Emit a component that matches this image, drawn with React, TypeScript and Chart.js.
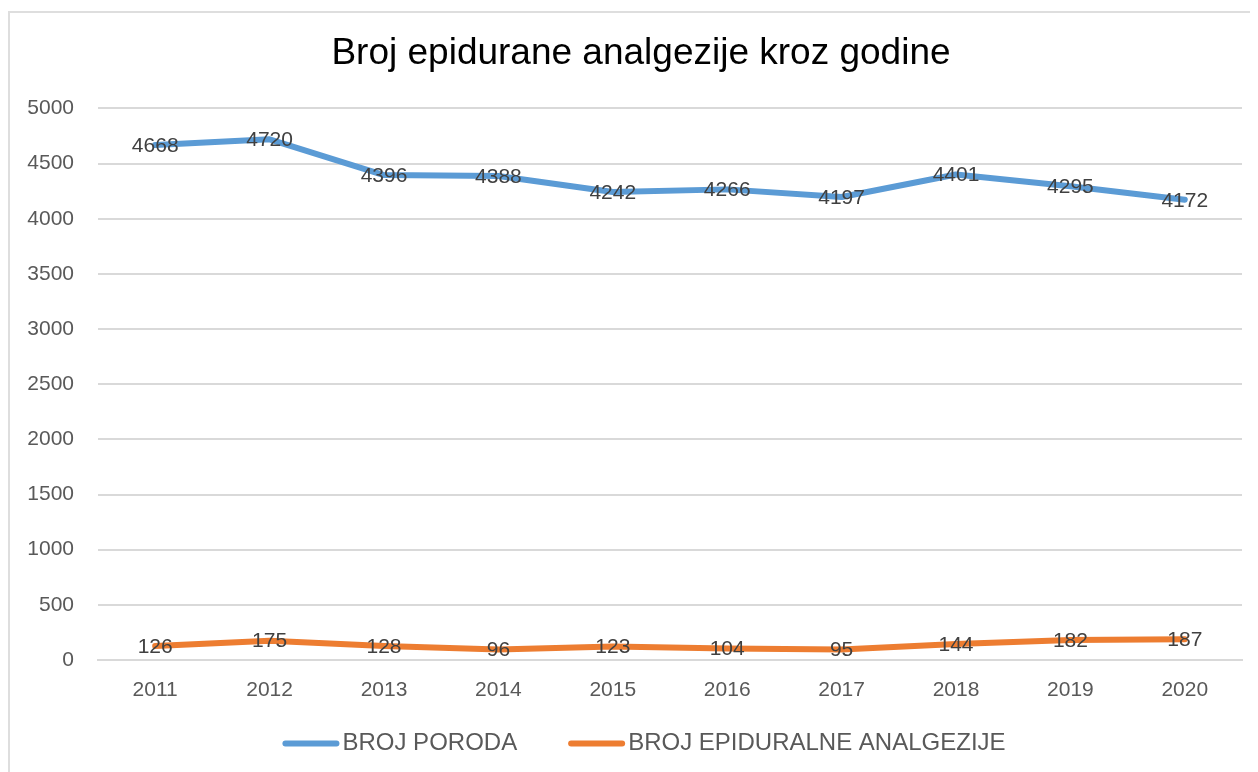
import React, { useEffect, useRef } from "react";
import { Chart, registerables } from "chart.js";

Chart.register(...registerables);

const TITLE = "Broj epidurane analgezije kroz godine";
const YEARS = ["2011", "2012", "2013", "2014", "2015", "2016", "2017", "2018", "2019", "2020"];
const BROJ_PORODA = [4668, 4720, 4396, 4388, 4242, 4266, 4197, 4401, 4295, 4172];
const BROJ_EPIDURALNE = [126, 175, 128, 96, 123, 104, 95, 144, 182, 187];
const SERIES_NAMES = ["BROJ PORODA", "BROJ EPIDURALNE ANALGEZIJE"];
const COLORS = ["#5B9BD5", "#ED7D31"];
const Y_MIN = 0;
const Y_MAX = 5000;
const Y_STEP = 500;

const FONT = '"Liberation Sans", Arial, sans-serif';

const titlePlugin = {
  id: "titleCustom",
  afterDraw(chart: any) {
    const ctx = chart.ctx;
    ctx.save();
    ctx.font = `37px ${FONT}`;
    ctx.fillStyle = "#000000";
    ctx.textAlign = "center";
    ctx.textBaseline = "middle";
    ctx.fillText(TITLE, chart.width / 2, 41);
    ctx.restore();
  },
};

const dataLabelPlugin = {
  id: "dataLabelsCustom",
  afterDatasetsDraw(chart: any) {
    const ctx = chart.ctx;
    ctx.save();
    ctx.font = `21px ${FONT}`;
    ctx.fillStyle = "#404040";
    ctx.textAlign = "center";
    ctx.textBaseline = "middle";
    chart.data.datasets.forEach((ds: any, di: number) => {
      const meta = chart.getDatasetMeta(di);
      meta.data.forEach((pt: any, i: number) => {
        ctx.fillText(String(ds.data[i]), pt.x, pt.y + 1);
      });
    });
    ctx.restore();
  },
};

const legendPlugin = {
  id: "legendCustom",
  afterDraw(chart: any) {
    const ctx = chart.ctx;
    ctx.save();
    ctx.font = `24px ${FONT}`;
    const lineLen = 57;
    const textGap = 3;
    const itemGap = 51;
    const items = chart.data.datasets.map((ds: any) => ({
      label: ds.label,
      color: ds.borderColor,
      w: ctx.measureText(ds.label).width,
    }));
    let total = 0;
    items.forEach((it: any, i: number) => {
      total += lineLen + textGap + it.w + (i < items.length - 1 ? itemGap : 0);
    });
    let x = chart.width / 2 - total / 2 + 3;
    const y = chart.chartArea.bottom + 83.5;
    items.forEach((it: any) => {
      ctx.strokeStyle = it.color;
      ctx.lineWidth = 6;
      ctx.lineCap = "round";
      ctx.beginPath();
      ctx.moveTo(x + 3, y);
      ctx.lineTo(x + lineLen - 3, y);
      ctx.stroke();
      ctx.fillStyle = "#595959";
      ctx.textAlign = "left";
      ctx.textBaseline = "middle";
      ctx.fillText(it.label, x + lineLen + textGap, y);
      x += lineLen + textGap + it.w + itemGap;
    });
    ctx.restore();
  },
};

export default function App() {
  const ref = useRef<HTMLCanvasElement | null>(null);

  useEffect(() => {
    document.body.style.overflow = "hidden";
    const canvas = ref.current;
    if (!canvas) return;
    const chart = new Chart(canvas, {
      type: "line",
      data: {
        labels: YEARS,
        datasets: [
          {
            label: SERIES_NAMES[0],
            data: BROJ_PORODA,
            borderColor: COLORS[0],
            backgroundColor: COLORS[0],
            borderWidth: 6,
            borderCapStyle: "round",
            borderJoinStyle: "round",
            pointRadius: 0,
            tension: 0,
          },
          {
            label: SERIES_NAMES[1],
            data: BROJ_EPIDURALNE,
            borderColor: COLORS[1],
            backgroundColor: COLORS[1],
            borderWidth: 6,
            borderCapStyle: "round",
            borderJoinStyle: "round",
            pointRadius: 0,
            tension: 0,
          },
        ],
      },
      options: {
        animation: false,
        responsive: false,
        maintainAspectRatio: false,
        layout: { padding: { left: 0, right: 30, top: 95.4, bottom: 52 } },
        plugins: {
          legend: { display: false },
          tooltip: { enabled: false },
          title: { display: false },
        },
        scales: {
          x: {
            offset: true,
            grid: { display: false, drawTicks: false },
            border: { display: true, color: "#d9d9d9", width: 2 },
            ticks: {
              color: "#595959",
              font: { family: FONT, size: 21 },
              padding: 18,
              maxRotation: 0,
            },
            afterFit: (s: any) => {
              s.height = 60;
            },
          },
          y: {
            min: Y_MIN,
            max: Y_MAX,
            ticks: {
              stepSize: Y_STEP,
              color: "#595959",
              font: { family: FONT, size: 21 },
              padding: 24,
              callback: (v: any) => String(v),
            },
            grid: { color: "#d9d9d9", lineWidth: 2, drawTicks: false },
            border: { display: false },
            afterFit: (s: any) => {
              s.width = 88;
            },
          },
        },
      },
      plugins: [titlePlugin, dataLabelPlugin, legendPlugin],
    });
    return () => chart.destroy();
  }, []);

  return (
    <div
      style={{
        marginTop: 3,
        width: 1262,
        height: 759,
        border: "2px solid #dedede",
        background: "#ffffff",
      }}
    >
      <canvas ref={ref} width={1262} height={759} style={{ display: "block" }} />
    </div>
  );
}
